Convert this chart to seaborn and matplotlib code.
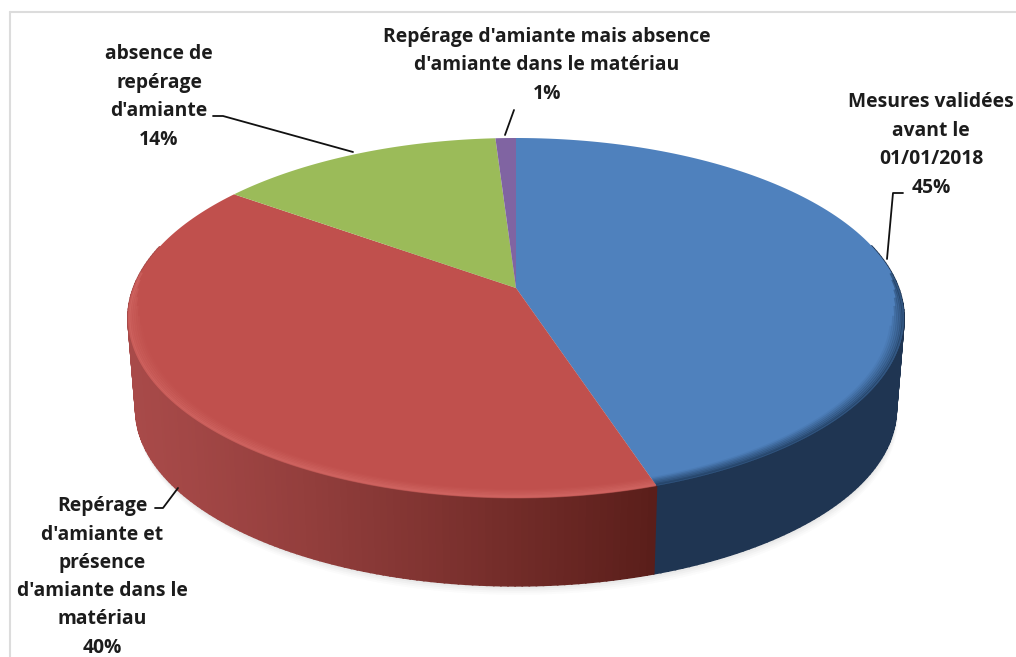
import numpy as np
import seaborn as sns
import matplotlib.pyplot as plt
from matplotlib.path import Path
from matplotlib.transforms import Affine2D, Transform
from matplotlib.colors import to_rgb

# Data
labels = ["Mesures validées\navant le\n01/01/2018\n45%",
          "Repérage\nd'amiante et\nprésence\nd'amiante dans le\nmatériau\n40%",
          "absence de\nrepérage\nd'amiante\n14%",
          "Repérage d'amiante mais absence\nd'amiante dans le matériau\n1%"]
values = [45, 40, 14, 1]
top_colors = ['#4F81BD', '#C0504D', '#9BBB59', '#8064A2']
# side wall colour at the left end and at the right end of the wall
side_left = ['#1F3552', '#A84A49', '#66803A', '#54406E']
side_right = ['#1F3552', '#5A1E1A', '#66803A', '#54406E']

label_pos = [(931, 145), (102, 577), (159, 97), (547, 65.5)]
leaders_x = [[903, 893, 887], [155, 163, 178], [213, 223, 353], [514, 505]]
leaders_y = [[193, 193, 259], [508, 508, 488], [116, 116, 152], [110, 135]]


class TiltedDisc(Transform):
    # unit disc -> pixel coordinates, seen in perspective
    input_dims = 2
    output_dims = 2
    is_affine = False

    def __init__(self, cx=516, cy=288, a=382.6, b=175, k=1 / 6):
        super().__init__()
        self.cx, self.cy, self.a, self.b, self.k = cx, cy, a, b, k

    def transform_non_affine(self, values):
        values = np.asarray(values, dtype=float)
        w = 1 + self.k * values[:, 1]
        return np.column_stack([self.cx + self.a * values[:, 0] / w,
                                self.cy - self.b * values[:, 1] / w])

    def transform_path_non_affine(self, path):
        poly = path.to_polygons(Affine2D().scale(3000), closed_only=False)[0] / 3000
        return Path(self.transform_non_affine(poly))


sns.set_theme(style="white")
plt.rcParams['font.family'] = ['Open Sans', 'DejaVu Sans']

fig = plt.figure(figsize=(10.16, 6.57), dpi=100)
ax = fig.add_axes([0, 0, 1, 1])

top = TiltedDisc()
bottom = TiltedDisc(cx=516, cy=380, a=382.6 * 0.98, b=175 * 0.98)

wedges, _ = ax.pie(values, colors=top_colors, startangle=90, counterclock=False,
                   wedgeprops=dict(linewidth=0, zorder=5))
for w in wedges:
    w.set_transform(top + ax.transData)

ax.set_aspect('auto')
ax.set_xlim(0, 1016)
ax.set_ylim(657, 0)
ax.set_frame_on(False)
ax.set_xticks([])
ax.set_yticks([])

# soft shadow under the disc
t = np.linspace(0, 2 * np.pi, 400)
circle = np.column_stack([np.cos(t), np.sin(t)])
for grow, alpha in zip([9, 7, 5, 3, 1], [0.02, 0.025, 0.03, 0.035, 0.04]):
    pts = bottom.transform_non_affine(circle)
    ax.fill(pts[:, 0] + grow * 0.2, pts[:, 1] + grow, color='#404040', alpha=alpha, lw=0, zorder=1)

# side wall, one thin strip at a time so the shading runs along the rim
for w, c0, c1 in zip(wedges, side_left, side_right):
    angles = np.radians(np.linspace(w.theta1, w.theta2, 160))
    c0, c1 = np.array(to_rgb(c0)), np.array(to_rgb(c1))
    for a0, a1 in zip(angles[:-1], angles[1:]):
        uv = np.array([[np.cos(a0), np.sin(a0)], [np.cos(a1), np.sin(a1)]])
        if uv[:, 1].mean() > 0.25:
            continue
        p = top.transform_non_affine(uv)
        q = bottom.transform_non_affine(uv)
        f = np.clip((p[:, 0].mean() - 130) / (655 - 130), 0, 1)
        col = c0 + (c1 - c0) * f ** 1.2
        ax.fill([p[0, 0], p[1, 0], q[1, 0], q[0, 0]], [p[0, 1], p[1, 1], q[1, 1], q[0, 1]],
                color=col, ec=col, lw=1.2, zorder=3)

# bevel along the rim of the top face
for w, col, strength in zip(wedges, ['#1B3554', '#D8706C', '#7F9C45', '#6A5088'],
                            [0.55, 0.4, 0.3, 0.3]):
    angles = np.radians(np.linspace(w.theta1, w.theta2, 300))
    for r, alpha in zip([0.997, 0.993, 0.988, 0.983, 0.978, 0.973, 0.968],
                        [1, 0.85, 0.7, 0.55, 0.4, 0.25, 0.12]):
        uv = np.column_stack([r * np.cos(angles), r * np.sin(angles)])
        # the bevel narrows towards the back of the disc
        front = uv[:, 1] < 0.12 - (1 - r) * 10
        p = top.transform_non_affine(uv)
        ax.plot(p[front, 0], p[front, 1], color=col, lw=1.8, alpha=alpha * strength,
                zorder=6, solid_capstyle='butt')

# leader lines and labels
for xs, ys in zip(leaders_x, leaders_y):
    ax.plot(xs, ys, color='#111111', lw=1.3, zorder=7)
for i, (lab, (x, y)) in enumerate(zip(labels, label_pos)):
    ax.text(x, y, lab, ha='center', va='center', fontsize=13.9, fontweight='bold',
            color='#1c1c1c', linespacing=1.55 if i == 1 else 1.58, zorder=8)

# light frame of the original screenshot
ax.plot([10, 1016], [12, 12], color='#dcdcdc', lw=1.5, zorder=0, clip_on=False)
ax.plot([10, 10], [12, 657], color='#dcdcdc', lw=1.5, zorder=0, clip_on=False)

fig.savefig('out.png', dpi=100)
